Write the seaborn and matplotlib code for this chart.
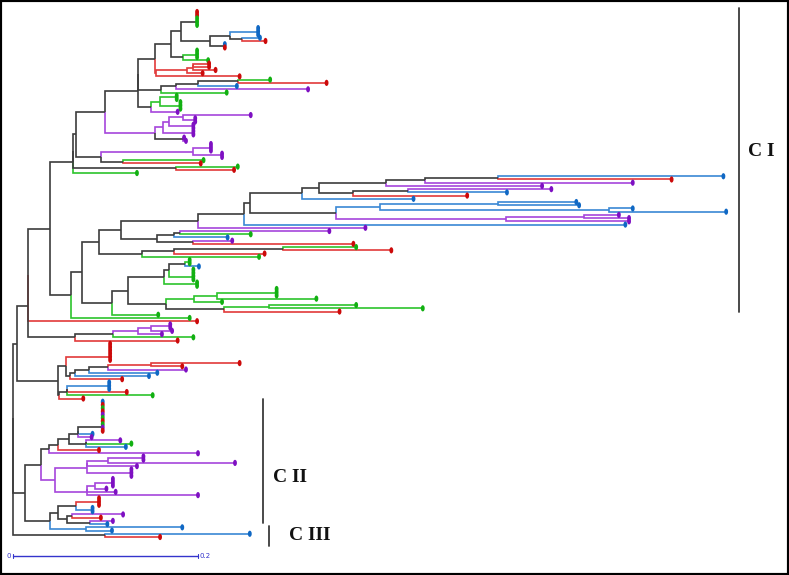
import matplotlib
matplotlib.use("Agg")
import numpy as np
import pandas as pd
import matplotlib.pyplot as plt
import seaborn as sns
from matplotlib.collections import LineCollection
from matplotlib.path import Path
from matplotlib.patches import Rectangle

# ---------------------------------------------------------------------------
# Tree data: Newick-like strings. Number after ':' = distance from root
# (units of 0.001 substitutions/site). Leaf letter = group colour.
# [xyz] = several identical (zero-length) sequences, ')k' = mixed-colour node.
# Multifurcations are resolved as zero-length ladders (as in the source tree).
# ---------------------------------------------------------------------------
TOP_A = "(([rrggg]:199,(([bbb]:265,(b:267,r:273):248):235,(b:229,r:229):228):213):182,([ggg]:199,g:211)k:184):171"
TOP_B = "(((r:212,r:212,r:219):195,r:205):188,r:245):155"
TOP_C = "((((g:278,r:339):243,b:242):200,p:319):176,g:231):160"
TOP_D = "(([gg]:177,[ggg]:181):159,p:178):149"
TOP_E = "((((p:257,[pp]:197):184,[pp]:195):169,[pp]:195):162,(p:185,p:187)k:184):154"
TOP_F = "(([ppp]:214,[pp]:226):195,(g:206,r:203):119):95"
TOP_G = "(g:243,r:239):176"

LONG_A = "(((((b:768,r:712):524,p:670):445,p:572):403,((p:582,b:534):427,r:491):368):331,b:433):312"
LONG_B = "(((b:609,b:612):524,(b:670,b:771):644):397,((p:655,p:666):617,p:666):533):349"
LONG_C = "(((p:342,g:257):181,b:232):174,(p:237,r:368):195):156"
LONG_D = "(((g:371,r:409):292,r:272):174,g:266):139"
LONG_E = "((([gg]:191,b:201):186,[gggg]:195):169,[gg]:199):163"
LONG_F = "((([ggg]:285,g:328):221,g:226):196,((g:371,g:443):277,r:353):228):165"

MID = "(((([pp]:170,p:172):149,p:161):135,g:195):108,r:178):67"
LOW_A = "([rrrrrr]:105,(((((r:245,r:183):149,p:187):103,b:156):82,b:147):67,r:118):62):57"
LOW_B = "(([bbb]:104,r:123,g:151):58,r:76):50"

CII_A = "((([brgrpgrgpr]:97,b:86,p:85):70,(p:116,g:128,b:122):79):61,r:93):49"
CII_B = "((([pp]:141,p:240):103,p:134,[ppp]:128):80,(([ppp]:108,p:101):89,p:111,p:200):80):45"
CII_C = "((([rrr]:93,[bb]:86):68,((p:119,r:95):64,(p:108,b:102):83):58):49,(b:183,b:107):79):40"
CIII = "(b:256,r:159):99"

clade_top = f"((((({TOP_A},{TOP_B}):154,{TOP_C},{TOP_D}):135,{TOP_E}):99,{TOP_F}):68,{TOP_G},g:134):65"
clade_long = (f"((((((({LONG_A},{LONG_B}):256,b:662):250,p:381):200,{LONG_C}):117,{LONG_D}):93,"
              f"(({LONG_E},{LONG_F}):124,g:157):107):75,g:191):63")
clade_cii = f"(({CII_A},p:200):39,{CII_B}):30"
TREE = (f"(((({clade_top},{clade_long}):40,r:199,{MID}):16,({LOW_A},{LOW_B}):49):4,"
        f"({clade_cii},{CII_C}):13,{CIII}):0")

LINE_COLOURS = {"r": "#e23a3a", "g": "#2cc42c", "b": "#3a88d4", "p": "#a645dc", "k": "#3c3c3c"}
DOT_COLOURS = {"r": "#cc0a0a", "g": "#12b012", "b": "#1068c4", "p": "#7e10c2"}

SCALE_LEN = 200          # 0.2 substitutions/site
SCALE_LABELS = ["0", "0.2"]
CLADE_LABELS = ["C I", "C II", "C III"]


# ---------------------------------------------------------------------------
def ladder(kids, depth, force):
    n = kids[0]
    for i, k in enumerate(kids[1:]):
        last = i == len(kids) - 2
        n = {"depth": depth, "kids": [n, k], "force": force if last else None}
    return n


def parse(s):
    s = s.replace(" ", "")
    pos = 0

    def num():
        nonlocal pos
        j = pos
        while j < len(s) and (s[j].isdigit() or s[j] == "."):
            j += 1
        v = float(s[pos:j])
        pos = j
        return v

    def node():
        nonlocal pos
        if s[pos] == "(":
            pos += 1
            kids = []
            while True:
                kids.append(node())
                ch = s[pos]
                pos += 1
                if ch == ")":
                    break
            force = None
            if s[pos] != ":":
                force = s[pos]
                pos += 1
            pos += 1
            return ladder(kids, num(), force)
        if s[pos] == "[":
            j = s.index("]", pos)
            cols = s[pos + 1:j]
            pos = j + 2
            d = num()
            return ladder([{"depth": d, "kids": [], "colour": c} for c in cols], d, None) \
                if len(cols) > 1 else {"depth": d, "kids": [], "colour": cols}
        c = s[pos]
        pos += 2
        return {"depth": num(), "kids": [], "colour": c}

    return node()


root = parse(TREE)
leaves = []


def layout(n):
    if not n["kids"]:
        n["y"] = len(leaves)
        leaves.append(n)
        return {n["colour"]}
    cols = set()
    for k in n["kids"]:
        cols |= layout(k)
    n["y"] = (n["kids"][0]["y"] + n["kids"][-1]["y"]) / 2
    n["colour"] = n["force"] if n["force"] else (next(iter(cols)) if len(cols) == 1 else "k")
    return cols


layout(root)

col_segs, col_cols, blk_segs = [], [], []


def collect(n):
    for k in n["kids"]:
        seg = [(n["depth"], n["y"]), (n["depth"], k["y"]), (k["depth"], k["y"])]
        if k["colour"] == "k":
            blk_segs.append(seg)
        else:
            col_segs.append(seg)
            col_cols.append(LINE_COLOURS[k["colour"]])
        collect(k)


collect(root)

leaf_df = pd.DataFrame({
    "depth": [l["depth"] for l in leaves],
    "y": [l["y"] for l in leaves],
    "group": [l["colour"] for l in leaves],
})

# ---------------------------------------------------------------------------
W, H = 789, 575
sns.set_style("white")
fig = plt.figure(figsize=(W / 100, H / 100), dpi=100)
ax = fig.add_axes([0, 0, 1, 1])
ax.axis("off")

nleaf = len(leaves)
step = (537 - 12) / (nleaf - 1)          # pixel spacing between tips
px_per_unit = 185 / SCALE_LEN
ax.set_xlim(-13 / px_per_unit, (W - 13) / px_per_unit)
ax.set_ylim((H - 12) / step, -12 / step)

ax.add_collection(LineCollection(col_segs, colors=col_cols, linewidths=1.2, capstyle="butt",
                                 joinstyle="miter", zorder=2))
ax.add_collection(LineCollection(blk_segs, colors=LINE_COLOURS["k"], linewidths=1.2,
                                 capstyle="butt", joinstyle="miter", zorder=2.5))

circ = Path.unit_circle()
ell = Path(circ.vertices * np.array([0.62, 1.0]), circ.codes)
sns.scatterplot(data=leaf_df, x="depth", y="y", hue="group", palette=DOT_COLOURS,
                marker=ell, s=20, linewidth=0, legend=False, ax=ax, zorder=3)


def fx(px):
    return px / W


def fy(py):
    return 1 - py / H


bar_kw = dict(color="#3a3a3a", lw=1.3, transform=ax.transAxes, clip_on=False)
ax.plot([fx(739), fx(739)], [fy(8), fy(312)], **bar_kw)
ax.plot([fx(263), fx(263)], [fy(399), fy(523)], **bar_kw)
ax.plot([fx(269), fx(269)], [fy(526), fy(546)], **bar_kw)
txt_kw = dict(transform=ax.transAxes, fontsize=14, fontweight="bold",
              family="Liberation Serif", va="center", ha="left", color="#111111")
ax.text(fx(748), fy(152), CLADE_LABELS[0], **txt_kw)
ax.text(fx(273), fy(478), CLADE_LABELS[1], **txt_kw)
ax.text(fx(289), fy(536), CLADE_LABELS[2], **txt_kw)

# scale bar
sb_y = 556 / step - 12 / step
blue = "#3434cc"
ax.plot([0, SCALE_LEN], [sb_y, sb_y], color=blue, lw=1.0)
for xv in (0, SCALE_LEN):
    ax.plot([xv, xv], [sb_y - 0.7, sb_y + 0.7], color=blue, lw=0.8)
ax.text(-4 / px_per_unit, sb_y, SCALE_LABELS[0], color=blue, fontsize=5, ha="center", va="center")
ax.text(SCALE_LEN + 2 / px_per_unit, sb_y, SCALE_LABELS[1], color=blue, fontsize=5, ha="left", va="center")

fig.add_artist(Rectangle((0, 0), 1, 1, transform=fig.transFigure, fill=False,
                         lw=3, edgecolor="black"))

fig.savefig("out.png", dpi=100)
